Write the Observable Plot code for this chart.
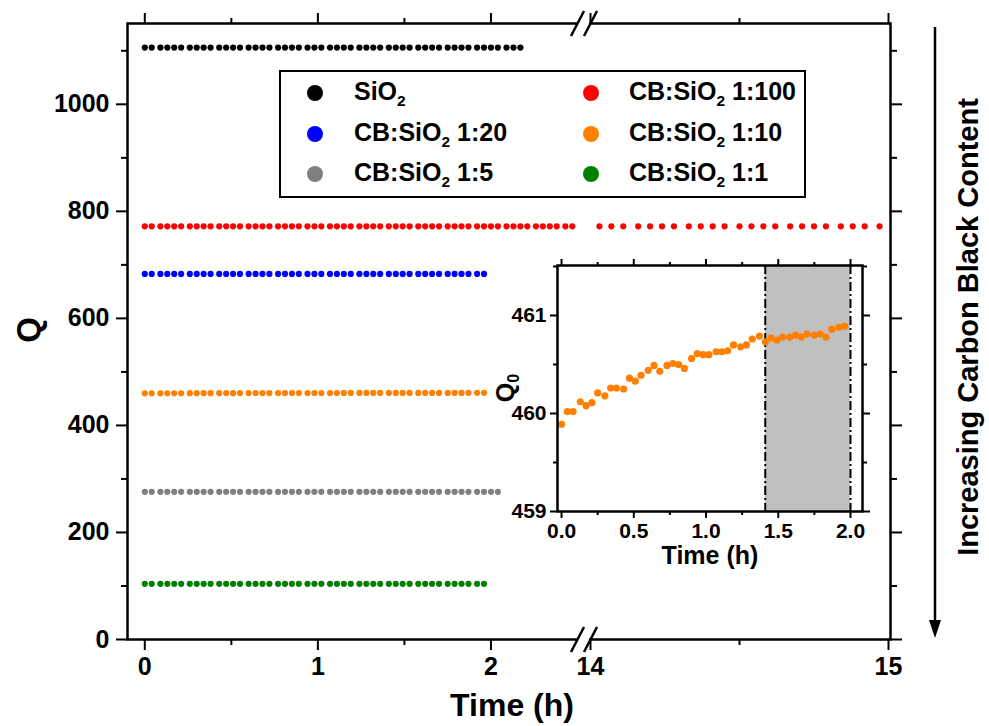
<!DOCTYPE html>
<html>
<head>
<meta charset="utf-8">
<script src="https://cdn.jsdelivr.net/npm/d3@7"></script>
<script src="https://cdn.jsdelivr.net/npm/@observablehq/plot@0.6"></script>
<style>
  html, body { margin: 0; padding: 0; background: #ffffff; }
  #wrap { position: relative; width: 989px; height: 726px; font-family: "Liberation Sans", Arial, sans-serif; }
  #wrap svg { position: absolute; }
  #legend { position: absolute; left: 279px; top: 70px; width: 527px; height: 128px; box-sizing: border-box;
            border: 2.5px solid #000; background: #fff; font: bold 25px "Liberation Sans", Arial, sans-serif; color: #000; }
  .lm { position: absolute; width: 16px; height: 16px; border-radius: 50%; margin-left: -8px; margin-top: -8px; }
  .lt { position: absolute; height: 30px; line-height: 30px; margin-top: -17px; white-space: nowrap; }
  .lt sub { font-size: 0.62em; vertical-align: -0.4em; line-height: 0; }
</style>
</head>
<body>
<div id="wrap"></div>
<script>
// ---------------- data ----------------
const seriesNames  = ["SiO2", "CB:SiO2 1:100", "CB:SiO2 1:20", "CB:SiO2 1:10", "CB:SiO2 1:5", "CB:SiO2 1:1"];
const seriesColors = ["#000000", "#ff0000", "#0000ff", "#ff8000", "#808080", "#008000"];
// approximately constant Q level read for each series (orange uses insetQ)
const seriesLevel  = [1106, 772, 683, null, 276, 104];
// number of samples shown in the first (0-2.5 h) segment
const seriesCount  = [52, 59, 47, 47, 49, 47];

// sampling times (h), first segment
const mainTimes = [0.00, 0.04, 0.09, 0.13, 0.17, 0.21, 0.26, 0.30, 0.34, 0.38,
                   0.43, 0.47, 0.51, 0.55, 0.60, 0.64, 0.68, 0.72, 0.77, 0.81,
                   0.85, 0.89, 0.94, 0.98, 1.02, 1.07, 1.11, 1.15, 1.19, 1.24,
                   1.28, 1.32, 1.36, 1.41, 1.45, 1.49, 1.53, 1.58, 1.62, 1.66,
                   1.70, 1.75, 1.79, 1.83, 1.87, 1.92, 1.96, 2.00, 2.04, 2.09,
                   2.13, 2.17, 2.21, 2.26, 2.30, 2.34, 2.38, 2.43, 2.47];
// CB:SiO2 1:100 continues after the break
const redLateTimes = [14.03, 14.07, 14.11, 14.16, 14.20, 14.24, 14.28, 14.33, 14.37, 14.41,
                      14.45, 14.50, 14.54, 14.58, 14.62, 14.67, 14.71, 14.75, 14.79, 14.84,
                      14.88, 14.92, 14.97];
const redLateQ = 772;

// inset: CB:SiO2 1:10 detail
const insetTimes = [0.00, 0.04, 0.08, 0.13, 0.17, 0.21, 0.25, 0.30, 0.34, 0.38,
                    0.43, 0.47, 0.51, 0.55, 0.60, 0.64, 0.68, 0.73, 0.77, 0.81,
                    0.85, 0.90, 0.94, 0.98, 1.02, 1.07, 1.11, 1.15, 1.19, 1.24,
                    1.28, 1.32, 1.37, 1.41, 1.45, 1.49, 1.53, 1.58, 1.62, 1.66,
                    1.70, 1.75, 1.79, 1.83, 1.87, 1.92, 1.96];
const insetQ = [459.89, 460.02, 460.02, 460.12, 460.08, 460.11, 460.21, 460.18, 460.26, 460.26,
                460.25, 460.36, 460.33, 460.39, 460.44, 460.49, 460.43, 460.49, 460.51, 460.50,
                460.46, 460.56, 460.61, 460.60, 460.60, 460.63, 460.63, 460.64, 460.70, 460.68,
                460.70, 460.76, 460.79, 460.73, 460.77, 460.75, 460.78, 460.78, 460.80, 460.78,
                460.81, 460.80, 460.81, 460.78, 460.86, 460.88, 460.89];
const shadeStart = 1.41, shadeEnd = 2.0;

// axis ticks
const xMajor = [0, 1, 2, 14, 15];
const xMinor = [0.5, 1.5, 14.5];
const xDomain = [-0.1, 2.5, 14, 15.0067];   // broken axis: 0-2.5 h // 14-15 h
const yMajor = [0, 200, 400, 600, 800, 1000];
const yMinor = [100, 300, 500, 700, 900, 1100];
const insetXMajor = [0, 0.5, 1.0, 1.5, 2.0];
const insetXMinor = [0.25, 0.75, 1.25, 1.75];
const insetYMajor = [459, 460, 461];
const insetYMinor = [459.5, 460.5, 461.5];

// ---------------- build rows ----------------
const mainData = [];
seriesNames.forEach((name, i) => {
  for (let k = 0; k < seriesCount[i]; k++) {
    const q = seriesLevel[i] === null ? insetQ[k] : seriesLevel[i];
    mainData.push({series: name, t: mainTimes[k], q});
  }
});
redLateTimes.forEach(t => mainData.push({series: "CB:SiO2 1:100", t, q: redLateQ}));
const insetData = insetTimes.map((t, i) => ({t, q: insetQ[i]}));

const FONT = "'Liberation Sans', Arial, sans-serif";
const blank = () => "";

// ---------------- main plot ----------------
const main = Plot.plot({
  width: 989, height: 726,
  marginTop: 23, marginBottom: 87, marginLeft: 127, marginRight: 99,
  style: `font: bold 25px ${FONT}; background: transparent; color: #000; overflow: visible;`,
  x: {type: "linear", domain: xDomain, range: [127, 577, 590, 890]},
  y: {domain: [0, 1151]},
  color: {domain: seriesNames, range: seriesColors},
  marks: [
    Plot.dot(mainData, {x: "t", y: "q", fill: "series", r: 3.1}),
    Plot.frame({stroke: "#000", strokeWidth: 2.5}),
    Plot.axisX({anchor: "bottom", ticks: xMajor, tickSize: 11, tickPadding: 7, strokeWidth: 2, label: null, tickFormat: d => String(d)}),
    Plot.axisX({anchor: "bottom", ticks: xMinor, tickSize: 6, strokeWidth: 2, label: null, tickFormat: blank}),
    Plot.axisX({anchor: "top", ticks: xMajor, tickSize: 11, strokeWidth: 2, label: null, tickFormat: blank}),
    Plot.axisX({anchor: "top", ticks: xMinor, tickSize: 6, strokeWidth: 2, label: null, tickFormat: blank}),
    Plot.axisY({anchor: "left", ticks: yMajor, tickSize: 11, tickPadding: 7, strokeWidth: 2, label: null, tickFormat: d => String(d)}),
    Plot.axisY({anchor: "left", ticks: yMinor, tickSize: 6, strokeWidth: 2, label: null, tickFormat: blank}),
    Plot.axisY({anchor: "right", ticks: yMajor, tickSize: 11, strokeWidth: 2, label: null, tickFormat: blank}),
    Plot.axisY({anchor: "right", ticks: yMinor, tickSize: 6, strokeWidth: 2, label: null, tickFormat: blank})
  ]
});
main.style.left = "0px"; main.style.top = "0px";
document.getElementById("wrap").appendChild(main);

// decorations: axis break, titles, arrow
{
  const sx = main.scale("x"), sy = main.scale("y");
  const svg = d3.select(main);
  const xa = sx.apply(2.5), xb = sx.apply(14);
  const yTop = sy.apply(1151), yBot = sy.apply(0);
  const g = svg.append("g");
  for (const yy of [yTop, yBot]) {
    g.append("rect").attr("x", xa + 1).attr("y", yy - 4).attr("width", xb - xa - 2).attr("height", 8).attr("fill", "#fff");
    for (const xc of [xa, xb]) {
      g.append("line").attr("x1", xc - 6).attr("y1", yy + 13).attr("x2", xc + 7).attr("y2", yy - 12)
        .attr("stroke", "#000").attr("stroke-width", 2.5);
    }
  }
  svg.append("text").attr("x", 512).attr("y", 716).attr("text-anchor", "middle")
    .style("font", `bold 32px ${FONT}`).text("Time (h)");
  svg.append("text").attr("transform", "translate(28,330) rotate(-90)").attr("text-anchor", "middle")
    .attr("dy", "0.35em").style("font", `bold 33px ${FONT}`).text("Q");
  // arrow
  svg.append("line").attr("x1", 935).attr("y1", 27).attr("x2", 935).attr("y2", 624)
    .attr("stroke", "#000").attr("stroke-width", 2.5);
  svg.append("path").attr("d", "M929,620 L941,620 L935,638 Z").attr("fill", "#000");
  svg.append("text").attr("transform", "translate(968,327) rotate(-90)").attr("text-anchor", "middle")
    .attr("dy", "0.35em").style("font", `bold 29px ${FONT}`).text("Increasing Carbon Black Content");
}

// ---------------- legend ----------------
{
  const leg = document.createElement("div");
  leg.id = "legend";
  const order = [[0, 1], [2, 3], [4, 5]];
  const rowsY = [21, 62, 102];
  const colMarker = [34, 310], colText = [73, 348];
  order.forEach((row, r) => row.forEach((si, c) => {
    const m = document.createElement("div");
    m.className = "lm";
    m.style.left = colMarker[c] + "px"; m.style.top = rowsY[r] + "px";
    m.style.background = seriesColors[si];
    leg.appendChild(m);
    const t = document.createElement("div");
    t.className = "lt";
    t.style.left = colText[c] + "px"; t.style.top = rowsY[r] + "px";
    const name = seriesNames[si];
    const idx = name.indexOf("SiO2");
    t.innerHTML = name.slice(0, idx) + "SiO<sub>2</sub>" + name.slice(idx + 4);
    leg.appendChild(t);
  }));
  document.getElementById("wrap").appendChild(leg);
}

// ---------------- inset ----------------
const inset = Plot.plot({
  width: 400, height: 330,
  marginLeft: 77, marginRight: 18, marginTop: 15, marginBottom: 69,
  style: `font: bold 21px ${FONT}; background: transparent; color: #000; overflow: visible;`,
  x: {domain: [-0.028, 2.083]},
  y: {domain: [459, 461.51]},
  marks: [
    Plot.frame({fill: "#fff"}),
    Plot.rect([{x1: shadeStart, x2: shadeEnd}], {x1: "x1", x2: "x2", y1: 459, y2: 461.51, fill: "#c0c0c0"}),
    Plot.ruleX([shadeStart, shadeEnd], {stroke: "#000", strokeWidth: 2, strokeDasharray: "9,3,2,3"}),
    Plot.dot(insetData, {x: "t", y: "q", fill: "#ff8000", r: 3.6}),
    Plot.frame({stroke: "#000", strokeWidth: 2.5}),
    Plot.axisX({anchor: "bottom", ticks: insetXMajor, tickSize: 7, tickPadding: 5, strokeWidth: 2, label: null, tickFormat: d3.format(".1f")}),
    Plot.axisX({anchor: "bottom", ticks: insetXMinor, tickSize: 4, strokeWidth: 2, label: null, tickFormat: blank}),
    Plot.axisX({anchor: "top", ticks: insetXMajor, tickSize: 7, strokeWidth: 2, label: null, tickFormat: blank}),
    Plot.axisX({anchor: "top", ticks: insetXMinor, tickSize: 4, strokeWidth: 2, label: null, tickFormat: blank}),
    Plot.axisY({anchor: "left", ticks: insetYMajor, tickSize: 7, tickPadding: 4, strokeWidth: 2, label: null, tickFormat: d => String(d)}),
    Plot.axisY({anchor: "left", ticks: insetYMinor, tickSize: 4, strokeWidth: 2, label: null, tickFormat: blank}),
    Plot.axisY({anchor: "right", ticks: insetYMajor, tickSize: 7, strokeWidth: 2, label: null, tickFormat: blank}),
    Plot.axisY({anchor: "right", ticks: insetYMinor, tickSize: 4, strokeWidth: 2, label: null, tickFormat: blank})
  ]
});
inset.style.left = "480px"; inset.style.top = "250px";
document.getElementById("wrap").appendChild(inset);
{
  const svg = d3.select(inset);
  svg.append("text").attr("x", 230).attr("y", 314).attr("text-anchor", "middle")
    .style("font", `bold 25px ${FONT}`).text("Time (h)");
  const q = svg.append("text").attr("transform", "translate(25,138) rotate(-90)").attr("text-anchor", "middle")
    .attr("dy", "0.35em").style("font", `bold 25px ${FONT}`);
  q.append("tspan").text("Q");
  q.append("tspan").attr("dy", "0.3em").style("font-size", "16px").text("0");
}
</script>
</body>
</html>
